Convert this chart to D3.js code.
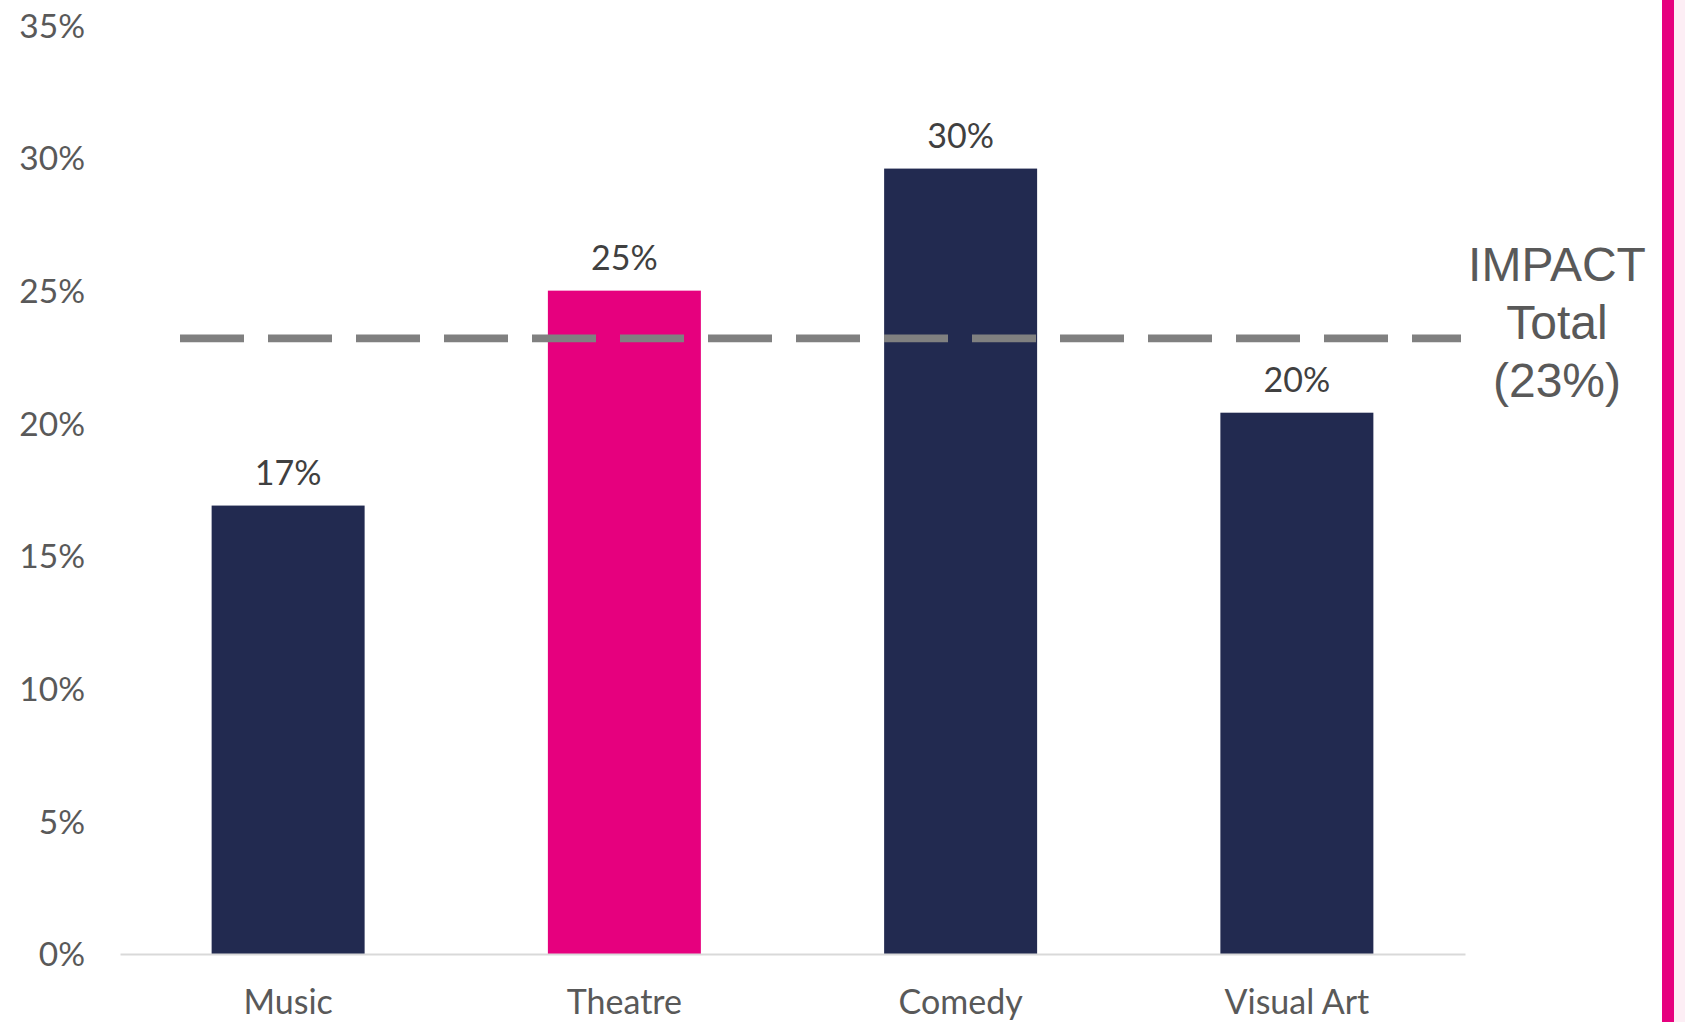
<!DOCTYPE html>
<html><head><meta charset="utf-8">
<script src="https://cdn.jsdelivr.net/npm/d3@7"></script>
<style>body{margin:0;background:#fff;}svg{display:block;}</style>
</head><body>
<script>
const categories = ["Music", "Theatre", "Comedy", "Visual Art"];
const values = [0.169, 0.250, 0.296, 0.204];
const labels = ["17%", "25%", "30%", "20%"];
const highlight = ["Theatre"];
const yTicks = [0, 0.05, 0.10, 0.15, 0.20, 0.25, 0.30, 0.35];
const impactTotal = 0.232;
const impactLabel = ["IMPACT", "Total", "(23%)"];

const W = 1685, H = 1022;
const svg = d3.select("body").append("svg").attr("width", W).attr("height", H);

const x = d3.scaleBand().domain(categories).range([120, 1465]).paddingInner(0.545).paddingOuter(0.2725);
const y = d3.scaleLinear().domain([0, 0.35]).range([954, 25.3]);

// right pink border
svg.append("rect").attr("x", 1674).attr("y", 0).attr("width", 11).attr("height", H).attr("fill", "#fdeef5");
svg.append("rect").attr("x", 1662).attr("y", 0).attr("width", 12).attr("height", H).attr("fill", "#e6007e");

// y axis labels
const yAxis = d3.axisLeft(y).tickValues(yTicks).tickFormat(d3.format(".0%")).tickSize(0).tickPadding(0);
const gy = svg.append("g").attr("transform", "translate(85,0)").call(yAxis);
gy.select(".domain").remove();
gy.selectAll("text").attr("fill", "#595959").style("font-family", "Lato, 'Open Sans', sans-serif").style("font-size", "33.5px").attr("dy", "0.35em");

// bars
svg.selectAll("rect.bar").data(categories).join("rect").attr("class", "bar")
  .attr("x", d => x(d)).attr("width", x.bandwidth())
  .attr("y", (d, i) => y(values[i])).attr("height", (d, i) => y(0) - y(values[i]))
  .attr("fill", d => highlight.includes(d) ? "#e6007e" : "#222a50");

// x axis
const xAxis = d3.axisBottom(x).tickSize(0).tickPadding(0);
const gx = svg.append("g").attr("transform", `translate(0,${y(0)})`).call(xAxis);
gx.select(".domain").attr("stroke", "#d9d9d9").attr("stroke-width", 2);
gx.selectAll("text").attr("fill", "#595959").attr("y", 60).attr("dy", 0)
  .style("font-family", "Lato, 'Open Sans', sans-serif").style("font-size", "34px");

// data labels
svg.selectAll("text.dl").data(categories).join("text").attr("class", "dl")
  .attr("x", d => x(d) + x.bandwidth() / 2).attr("y", (d, i) => y(values[i]) - 21)
  .attr("text-anchor", "middle").attr("fill", "#404040")
  .style("font-family", "Lato, 'Open Sans', sans-serif").style("font-size", "34px")
  .text((d, i) => labels[i]);

// impact line
svg.append("line").attr("x1", 180).attr("x2", 1461).attr("y1", y(impactTotal)).attr("y2", y(impactTotal))
  .attr("stroke", "#808080").attr("stroke-width", 7.7).attr("stroke-dasharray", "64,24");

svg.append("text").attr("x", 1557).attr("y", 281).attr("text-anchor", "middle").attr("fill", "#595959")
  .style("font-family", "'Liberation Sans', Arial, sans-serif").style("font-size", "48px")
  .selectAll("tspan").data(impactLabel).join("tspan").attr("x", 1557).attr("dy", (d, i) => i === 0 ? 0 : 58).text(d => d);
</script>
</body></html>
